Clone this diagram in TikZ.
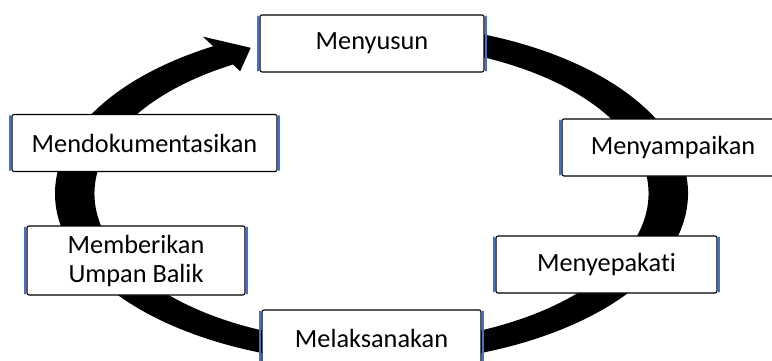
\documentclass[tikz,border=0pt]{standalone}
\usepackage{fontspec}
\setmainfont{Carlito}[Ligatures=NoCommon]
\definecolor{edgeblue}{HTML}{4472C4}

\begin{document}
\begin{tikzpicture}[x=1pt,y=1pt]
	  \useasboundingbox (0,0) rectangle (772,360);
	  \tikzset{BoxStyle/.style = {shape           = rectangle,
	  							  draw            = black,
	  							  fill            = white,
	  							  line width      = 1.1pt,
	  							  rounded corners = 2pt,
	  							  inner sep       = 0pt,
	  							  align           = center,
	  							  minimum height  = 57pt,
	  							  font            = \fontsize{26.3}{29}\selectfont}}

	  \tikzset{RingStyle/.style = {fill = black}}

	  \tikzset{EdgeStyle/.style = {draw       = edgeblue,
	  							   line width = 2.4pt,
	  							   line cap   = round}}

	  % ring with the arrow head
	  \fill[RingStyle] (399.1,335.9)
	       arc[start angle=85, end angle=-240, x radius=316.5, y radius=170]
	       -- (202.8,323.4) -- (250.7,312.2) -- (240.2,288.7) -- (233,295.5)
	       arc[start angle=-240, end angle=85, x radius=277, y radius=149]
	       -- cycle;

	     \node[BoxStyle, minimum width=224pt] (menyusun) at (372,316.5) {Menyusun};
	     \node[BoxStyle, minimum width=222pt] (menyampaikan) at (673,212.5) {Menyampaikan};
	     \node[BoxStyle, minimum width=221pt] (menyepakati) at (606.5,95.5) {Menyepakati};
	     \node[BoxStyle, minimum width=219pt] (melaksanakan) at (371.5,21.5) {Melaksanakan};
	     \node[BoxStyle, minimum width=218pt, minimum height=69pt] (memberikan) at (136,99.5) {Memberikan\\Umpan Balik};
	     \node[BoxStyle, minimum width=265pt] (mendokumentasikan) at (144.5,217) {Mendokumentasikan};

	     \foreach \n in {menyusun,menyampaikan,menyepakati,melaksanakan,memberikan,mendokumentasikan}{
	       \draw[EdgeStyle]([shift={(-1.6pt,-2pt)}]\n.north west) -- ([shift={(-1.6pt,2pt)}]\n.south west);
	       \draw[EdgeStyle]([shift={(1.6pt,-2pt)}]\n.north east) -- ([shift={(1.6pt,2pt)}]\n.south east);
	     }
	  \end{tikzpicture}
\end{document}
